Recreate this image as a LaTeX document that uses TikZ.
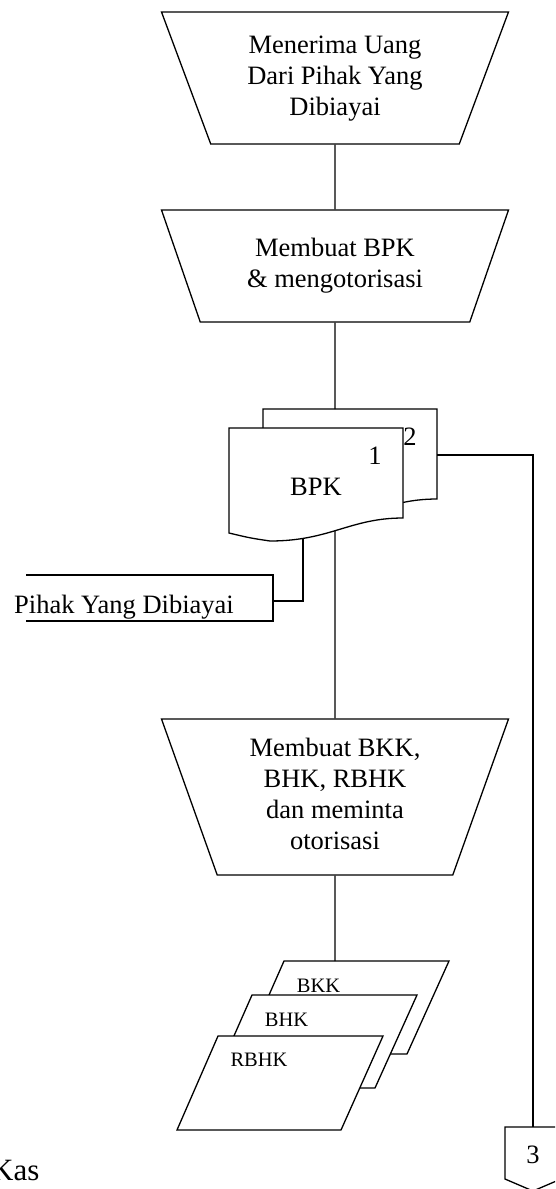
\documentclass[tikz,border=0pt]{standalone}
\usepackage{fontspec}
\setmainfont{Liberation Serif}
\usetikzlibrary{shapes.geometric}
\newcommand{\baris}[1]{\begin{tabular}{@{}c@{}}#1\end{tabular}}

\begin{document}
\begin{tikzpicture}[x=1pt,y=-1pt,line width=1.3pt,
    proses/.style={trapezium,draw,fill=white,shape border rotate=180,trapezium stretches body=true,
        inner sep=0pt,minimum width=347pt,font=\fontsize{26.5}{31}\selectfont},
    teks/.style={font=\fontsize{26.5}{30}\selectfont,inner sep=0pt,anchor=base},
    kecil/.style={font=\fontsize{20.5}{24}\selectfont,inner sep=0pt,anchor=base}]
    \useasboundingbox (0,0) rectangle (555,1189);
    \clip (0,0) rectangle (555,1189);

    % Proses
    \node[proses,trapezium angle=62.1,minimum height=132pt] (terima) at (335,78)
        {\raisebox{5pt}{\baris{Menerima Uang\\Dari Pihak Yang\\Dibiayai}}};
    \node[proses,trapezium angle=58,minimum height=112pt] (buatbpk) at (335,266)
        {\raisebox{10pt}{\baris{Membuat BPK\\\& mengotorisasi}}};
    \node[proses,trapezium angle=65.8,minimum height=156pt] (buatbkk) at (335,797)
        {\baris{Membuat BKK,\\BHK, RBHK\\dan meminta\\otorisasi}};

    % Dokumen BPK
    \draw[fill=white] (263,409) -- (437,409) -- (437,499) .. controls (384,499) and (364,522) .. (304,522)
        .. controls (284,519) .. (263,514) -- cycle;
    \draw[fill=white] (229,428) -- (403,428) -- (403,518) .. controls (350,518) and (330,541) .. (270,541)
        .. controls (250,538) .. (229,533) -- cycle;
    \coordinate (bpk2atas) at (335,409);
    \coordinate (bpk2kanan) at (437,455);
    \coordinate (bpk1bawah) at (335,530.6);
    \coordinate (bpk1kiri) at (303,538.3);
    \node[teks] (bpk) at (316,495) {BPK};
    \node[teks] (satu) at (375,464) {1};
    \node[teks] (dua) at (410,445) {2};

    % Pihak Yang Dibiayai
    \draw (26,575) -- (273,575) -- (273,621) -- (26,621);
    \coordinate (pihakkanan) at (273,601);
    \node[teks] (pihak) at (124,613) {Pihak Yang Dibiayai};

    % BKK, BHK, RBHK
    \draw[fill=white] (284,961) -- (449,961) -- (407,1054) -- (243,1054) -- cycle;
    \draw[fill=white] (252,995) -- (417,995) -- (375,1088) -- (211,1088) -- cycle;
    \draw[fill=white] (218,1036) -- (383,1036) -- (341,1130) -- (177,1130) -- cycle;
    \coordinate (bkkatas) at (335,961);
    \node[kecil] (bkk) at (318.5,992) {BKK};
    \node[kecil] (bhk) at (286.5,1026) {BHK};
    \node[kecil] (rbhk) at (259,1066) {RBHK};

    % Penghubung halaman
    \draw[fill=white] (505,1127) -- (561,1127) -- (561,1179) -- (533,1191) -- (505,1179) -- cycle;
    \coordinate (hal3atas) at (533,1127);
    \node[teks] (hal3) at (533,1163) {3};
    \node[teks,font=\fontsize{31}{34}\selectfont,anchor=base east] (kas) at (40,1180) {Kas};

    % Garis
    \draw (terima.south) -- (buatbpk.north);
    \draw (buatbpk.south) -- (bpk2atas);
    \draw (bpk1bawah) -- (buatbkk.north);
    \draw (buatbkk.south) -- (bkkatas);
    \draw (bpk1kiri) |- (pihakkanan);
    \draw (bpk2kanan) -| (hal3atas);
\end{tikzpicture}
\end{document}
